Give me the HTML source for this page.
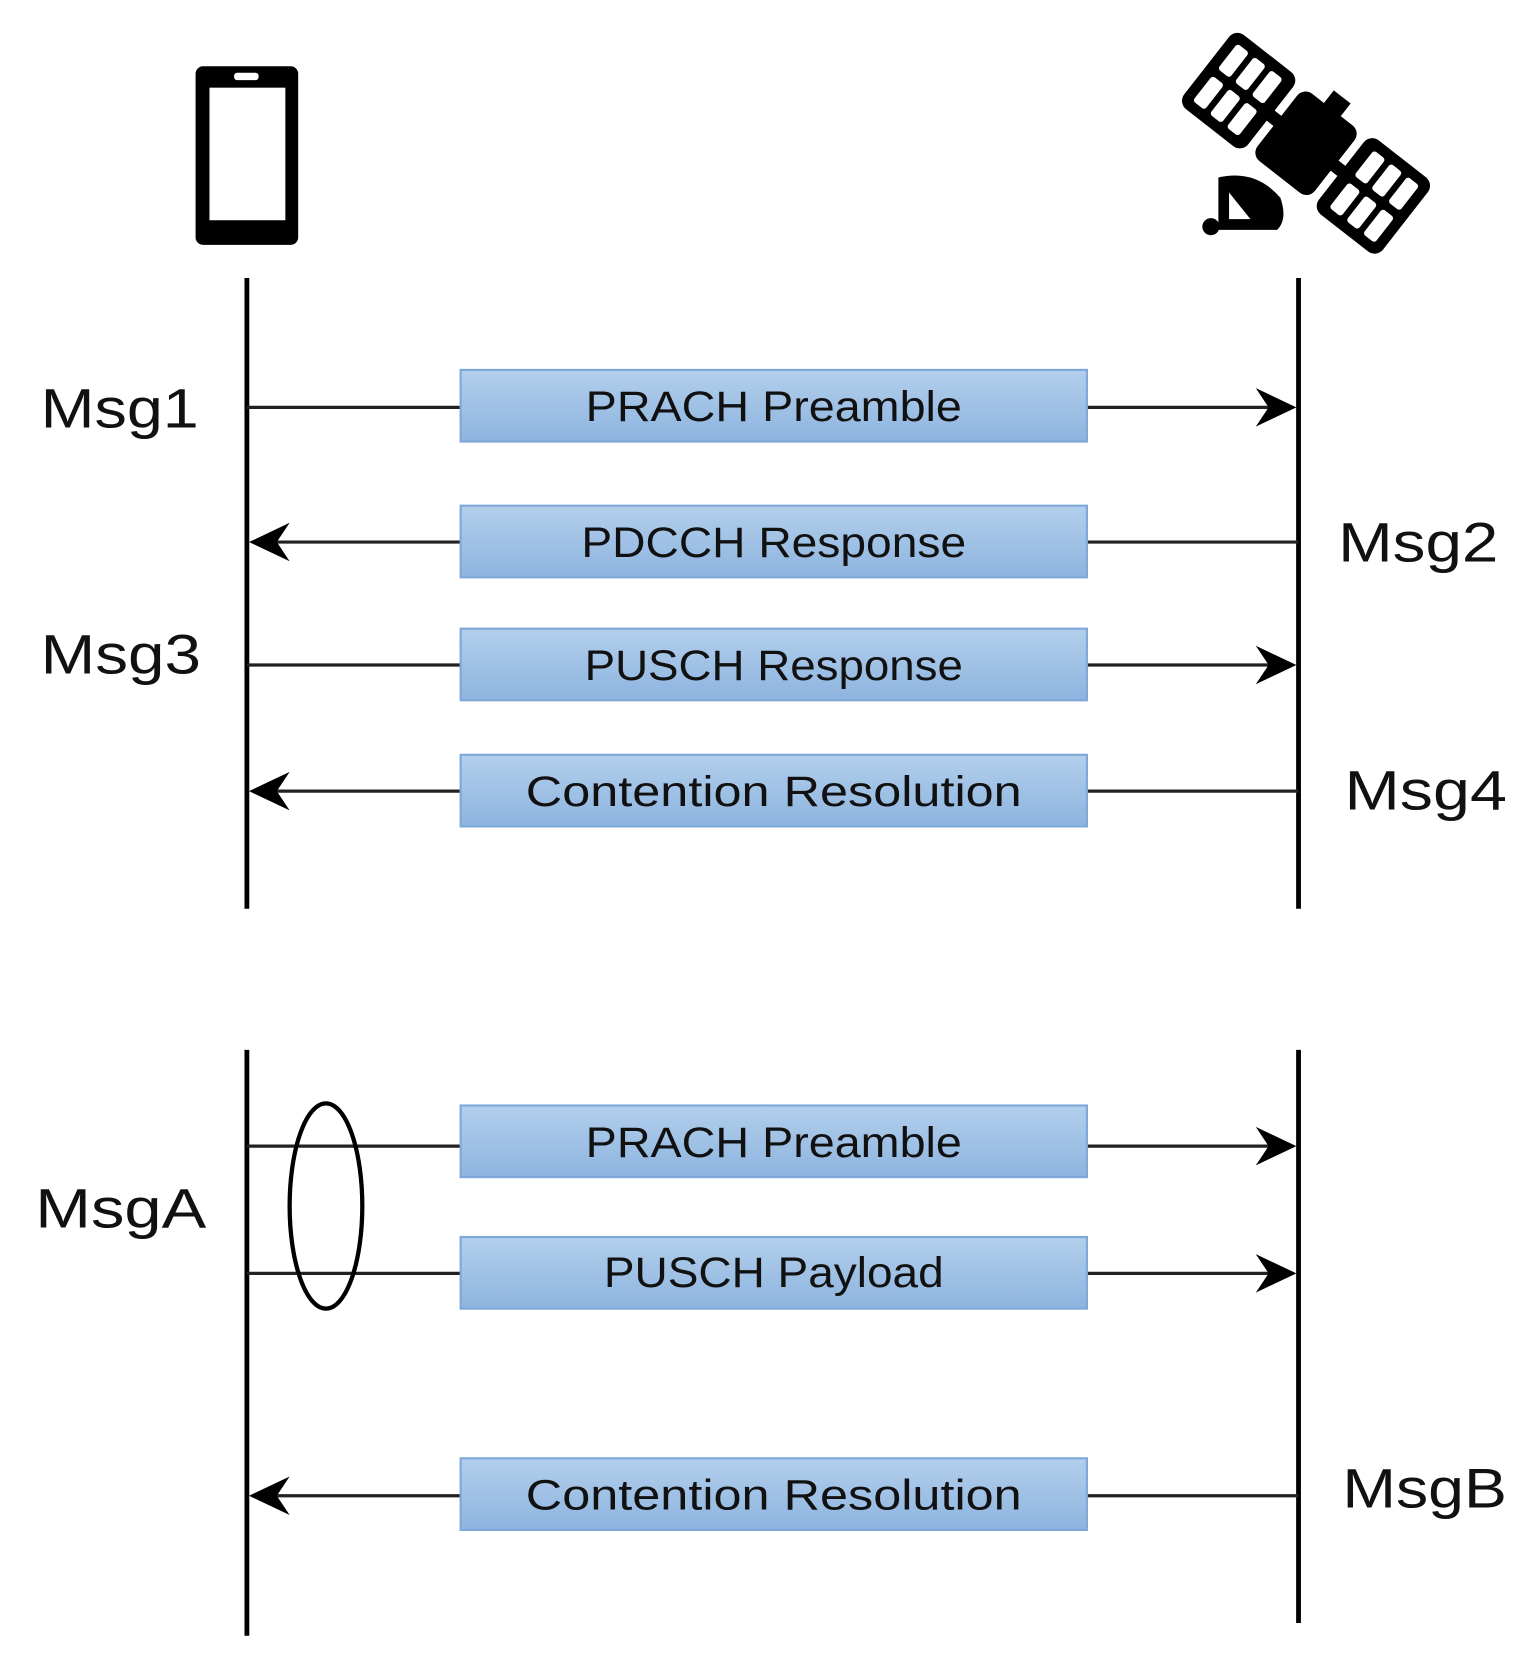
<!DOCTYPE html>
<html><head><meta charset="utf-8"><style>html,body{margin:0;padding:0;background:#fff}svg{display:block}</style></head>
<body>
<svg width="1539" height="1670" viewBox="0 0 1440 1562" preserveAspectRatio="none" xmlns="http://www.w3.org/2000/svg">
<defs>
<linearGradient id="g" x1="0" y1="0" x2="0" y2="1"><stop offset="0" stop-color="#b3cfec"/><stop offset="1" stop-color="#8db4df"/></linearGradient>
<path id="ar" d="M0 0 L-38 -18 L-26 0 L-38 18 Z" fill="#000"/>
<path id="al" d="M0 0 L38 -18 L26 0 L38 18 Z" fill="#000"/>
</defs>
<!-- phone -->
<rect x="183" y="62" width="96" height="167" rx="7" fill="#000"/>
<rect x="196" y="82" width="71" height="124" fill="#fff"/>
<rect x="219" y="68" width="23" height="7" rx="3" fill="#fff"/>
<!-- satellite -->
<g transform="translate(1222,134) rotate(38)">
<rect x="-34" y="-40" width="68" height="80" rx="10" fill="#000"/>
<rect x="-10" y="-55" width="20" height="20" fill="#000"/>
<rect x="-118" y="-44" width="76" height="88" rx="10" fill="#000"/>
<rect x="42" y="-44" width="76" height="88" rx="10" fill="#000"/>
<rect x="-46" y="-6" width="14" height="12" fill="#000"/>
<rect x="32" y="-6" width="14" height="12" fill="#000"/>
<g fill="#fff">
<rect x="-108" y="-34" width="14" height="30" rx="3"/><rect x="-88" y="-34" width="14" height="30" rx="3"/><rect x="-68" y="-34" width="14" height="30" rx="3"/>
<rect x="-108" y="4" width="14" height="30" rx="3"/><rect x="-88" y="4" width="14" height="30" rx="3"/><rect x="-68" y="4" width="14" height="30" rx="3"/>
<rect x="54" y="-34" width="14" height="30" rx="3"/><rect x="74" y="-34" width="14" height="30" rx="3"/><rect x="94" y="-34" width="14" height="30" rx="3"/>
<rect x="54" y="4" width="14" height="30" rx="3"/><rect x="74" y="4" width="14" height="30" rx="3"/><rect x="94" y="4" width="14" height="30" rx="3"/>
</g>
</g>
<path d="M1140 166 Q1175 158 1198 185 Q1205 205 1195 215 L1140 215 Z" fill="#000"/>
<path d="M1150 180 L1150 205 L1170 205 Z" fill="#fff"/>
<circle cx="1133" cy="212" r="8" fill="#000"/>
<!-- lifelines -->
<g stroke="#000" stroke-width="4.5">
<line x1="231" y1="260" x2="231" y2="850"/><line x1="1215" y1="260" x2="1215" y2="850"/>
<line x1="231" y1="982" x2="231" y2="1530"/><line x1="1215" y1="982" x2="1215" y2="1518"/>
</g>
<g stroke="#222" stroke-width="3">
<line x1="231" y1="381" x2="1200" y2="381"/>
<line x1="245" y1="507" x2="1215" y2="507"/>
<line x1="231" y1="622" x2="1200" y2="622"/>
<line x1="245" y1="740" x2="1215" y2="740"/>
<line x1="231" y1="1072" x2="1200" y2="1072"/>
<line x1="231" y1="1191" x2="1200" y2="1191"/>
<line x1="245" y1="1399" x2="1215" y2="1399"/>
</g>
<use href="#ar" x="1213" y="381"/><use href="#al" x="233" y="507"/><use href="#ar" x="1213" y="622"/><use href="#al" x="233" y="740"/>
<use href="#ar" x="1213" y="1072"/><use href="#ar" x="1213" y="1191"/><use href="#al" x="233" y="1399"/>
<ellipse cx="305" cy="1128" rx="34" ry="96" fill="none" stroke="#000" stroke-width="4"/>
<g fill="url(#g)" stroke="#7ea8d8" stroke-width="2">
<rect x="431" y="346" width="586" height="67"/>
<rect x="431" y="473" width="586" height="67"/>
<rect x="431" y="588" width="586" height="67"/>
<rect x="431" y="706" width="586" height="67"/>
<rect x="431" y="1034" width="586" height="67"/>
<rect x="431" y="1157" width="586" height="67"/>
<rect x="431" y="1364" width="586" height="67"/>
</g>
<g font-family="Liberation Sans, sans-serif" font-size="40" fill="#111" text-anchor="middle">
<text x="724" y="394" textLength="352" lengthAdjust="spacingAndGlyphs">PRACH Preamble</text>
<text x="724" y="521" textLength="360" lengthAdjust="spacingAndGlyphs">PDCCH Response</text>
<text x="724" y="636" textLength="354" lengthAdjust="spacingAndGlyphs">PUSCH Response</text>
<text x="724" y="754" textLength="464" lengthAdjust="spacingAndGlyphs">Contention Resolution</text>
<text x="724" y="1082" textLength="352" lengthAdjust="spacingAndGlyphs">PRACH Preamble</text>
<text x="724" y="1204" textLength="318" lengthAdjust="spacingAndGlyphs">PUSCH Payload</text>
<text x="724" y="1412" textLength="464" lengthAdjust="spacingAndGlyphs">Contention Resolution</text>
</g>
<g font-family="Liberation Sans, sans-serif" font-size="52" fill="#111">
<text x="38" y="400" textLength="148" lengthAdjust="spacingAndGlyphs">Msg1</text>
<text x="1252" y="525" textLength="150" lengthAdjust="spacingAndGlyphs">Msg2</text>
<text x="38" y="630" textLength="150" lengthAdjust="spacingAndGlyphs">Msg3</text>
<text x="1258" y="757" textLength="152" lengthAdjust="spacingAndGlyphs">Msg4</text>
<text x="33" y="1148" textLength="160" lengthAdjust="spacingAndGlyphs">MsgA</text>
<text x="1256" y="1410" textLength="154" lengthAdjust="spacingAndGlyphs">MsgB</text>
</g>
</svg>
</body></html>
